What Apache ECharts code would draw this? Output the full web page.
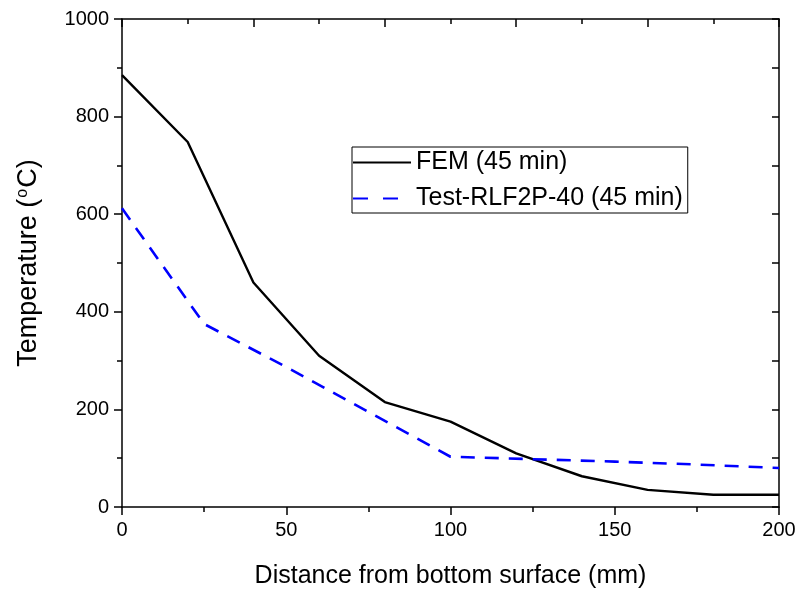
<!DOCTYPE html>
<html>
<head>
<meta charset="utf-8">
<script src="https://cdn.jsdelivr.net/npm/echarts@6/dist/echarts.min.js"></script>
<style>html,body{margin:0;padding:0;background:#fff}#c{width:800px;height:590px}</style>
</head>
<body>
<div id="c"></div>
<script>
// Data
const femX = [0, 20, 40, 60, 80, 100, 120, 140, 160, 180, 200];
const femT = [885, 748, 460, 310, 215, 175, 110, 63, 35, 25, 25];
const testX = [0, 25, 50, 75, 100, 125, 150, 175, 200];
const testT = [612, 375, 287, 195, 103, 98, 93, 87, 80];
const seriesNames = ['FEM (45 min)', 'Test-RLF2P-40 (45 min)'];
const xTitle = 'Distance from bottom surface (mm)';

const chart = echarts.init(document.getElementById('c'), null, {renderer: 'canvas'});
const font = 'Liberation Sans, Arial, sans-serif';
const axisLine = {show: true, onZero: false, lineStyle: {color: '#000', width: 1.5}};
const opt = {
  backgroundColor: '#fff',
  animation: false,
  textStyle: {fontFamily: font},
  grid: {left: 122, right: 21, top: 19, bottom: 83, containLabel: false, outerBoundsMode: 'none'},
  legend: {
    show: true,
    orient: 'vertical',
    left: 352, top: 147,
    itemWidth: 58, itemHeight: 14, itemGap: 11,
    padding: [3, 5, 2, 0],
    borderColor: '#000', borderWidth: 1,
    backgroundColor: '#fff',
    itemStyle: {opacity: 0},
    textStyle: {fontSize: 25, color: '#000', fontFamily: font},
    data: [
      {name: seriesNames[0]},
      {name: seriesNames[1], lineStyle: {type: [15, 15]}}
    ]
  },
  xAxis: [{
    type: 'value', position: 'bottom', min: 0, max: 200, interval: 50,
    name: xTitle, nameLocation: 'middle', nameGap: 57,
    nameTextStyle: {fontSize: 25, color: '#000', fontFamily: font},
    axisLine: axisLine,
    axisTick: {show: true, inside: false, length: 8, lineStyle: {color: '#000', width: 1.5}},
    minorTick: {show: true, splitNumber: 2, length: 5, lineStyle: {color: '#000', width: 1.5}},
    axisLabel: {fontSize: 20, color: '#000', margin: 13, fontFamily: font},
    splitLine: {show: false}
  }, {
    type: 'value', position: 'top', min: 0, max: 200, interval: 40,
    axisLine: axisLine,
    axisTick: {show: true, inside: true, length: 8, lineStyle: {color: '#000', width: 1.5}},
    minorTick: {show: true, splitNumber: 2, length: 5, lineStyle: {color: '#000', width: 1.5}},
    axisLabel: {show: false},
    splitLine: {show: false}
  }],
  yAxis: [{
    type: 'value', position: 'left', min: 0, max: 1000, interval: 200,
    name: '{a|Temperature (}{s|o}{a|C)}', nameLocation: 'middle', nameGap: 80, nameRotate: 90,
    nameTextStyle: {
      color: '#000', fontFamily: font,
      rich: {
        a: {fontSize: 27, color: '#000', fontFamily: font},
        s: {fontSize: 16, color: '#000', fontFamily: font, verticalAlign: 'top', padding: [0, 1, 10, 1]}
      }
    },
    axisLine: axisLine,
    axisTick: {show: true, inside: false, length: 8, lineStyle: {color: '#000', width: 1.5}},
    minorTick: {show: true, splitNumber: 2, length: 5, lineStyle: {color: '#000', width: 1.5}},
    axisLabel: {fontSize: 20, color: '#000', margin: 13, fontFamily: font, formatter: v => String(v)},
    splitLine: {show: false}
  }, {
    type: 'value', position: 'right', min: 0, max: 1000, interval: 100,
    axisLine: axisLine,
    axisTick: {show: true, inside: true, length: 7, lineStyle: {color: '#000', width: 1.5}},
    axisLabel: {show: false},
    splitLine: {show: false}
  }],
  series: [{
    name: seriesNames[0], type: 'line', xAxisIndex: 0, yAxisIndex: 0,
    symbol: 'none', smooth: false,
    lineStyle: {color: '#000', width: 2.4, type: 'solid'},
    itemStyle: {color: '#000'},
    data: femX.map((x, i) => [x, femT[i]])
  }, {
    name: seriesNames[1], type: 'line', xAxisIndex: 0, yAxisIndex: 0,
    symbol: 'none', smooth: false,
    lineStyle: {color: '#0000ff', width: 2.6, type: [14, 10]},
    itemStyle: {color: '#0000ff'},
    data: testX.map((x, i) => [x, testT[i]])
  }]
};
chart.setOption(opt);
</script>
</body>
</html>
